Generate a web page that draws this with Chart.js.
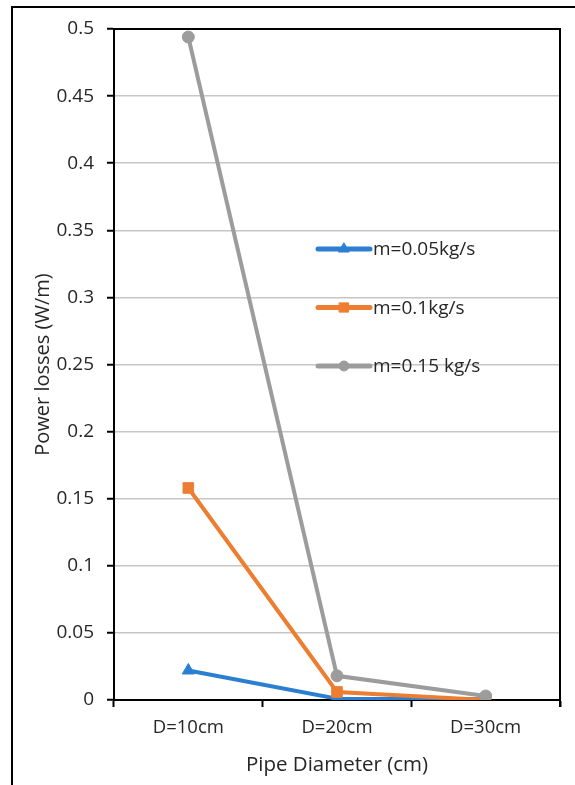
<!DOCTYPE html>
<html>
<head>
<meta charset="utf-8">
<script src="https://cdn.jsdelivr.net/npm/chart.js@4"></script>
<style>
  html, body { margin: 0; padding: 0; background: #fff; overflow: hidden; }
  #wrap { position: relative; width: 575px; height: 785px; }
</style>
</head>
<body>
<div id="wrap"><canvas id="c" width="575" height="785"></canvas></div>
<script>
// Pipe diameters on the x axis
const categories = ['D=10cm', 'D=20cm', 'D=30cm'];
// Mass flow rates, one series each
const seriesNames = ['m=0.05kg/s', 'm=0.1kg/s', 'm=0.15 kg/s'];
// Power losses (W/m)
const lossFlow005 = [0.022, 0.001, 0.0005];
const lossFlow010 = [0.158, 0.006, 0];
const lossFlow015 = [0.494, 0.018, 0.003];
// Value axis range and step
const yMin = 0;
const yMax = 0.5;
const yStep = 0.05;

const FONT = '"Open Sans", Lato, sans-serif';
const TEXT = '#262626';
const colors = ['#2b7fd3', '#ed7d31', '#9c9c9c'];
const markers = ['triangle', 'rect', 'circle'];
const markerRadius = [7, 7.5, 6];

// Top/right frame of the plot area plus the outer figure border
const framePlugin = {
  id: 'frame',
  afterDraw(chart) {
    const { ctx, chartArea: a } = chart;
    ctx.save();
    ctx.strokeStyle = '#000';
    ctx.lineWidth = 2;
    ctx.beginPath();
    ctx.moveTo(a.left, a.top);
    ctx.lineTo(a.right, a.top);
    ctx.lineTo(a.right, a.bottom + 7);
    ctx.stroke();
    // outer border
    ctx.beginPath();
    ctx.moveTo(12, chart.height);
    ctx.lineTo(12, 7);
    ctx.lineTo(chart.width, 7);
    ctx.stroke();
    ctx.restore();
  }
};

// Legend drawn inside the plot area: line sample with the marker on it
const insideLegend = {
  id: 'insideLegend',
  afterDatasetsDraw(chart) {
    const { ctx } = chart;
    const x0 = 318, x1 = 370, y0 = 249, gap = 58.5;
    ctx.save();
    chart.data.datasets.forEach((ds, i) => {
      const y = y0 + i * gap;
      ctx.strokeStyle = ds.borderColor;
      ctx.lineWidth = 5;
      ctx.lineCap = 'round';
      ctx.beginPath();
      ctx.moveTo(x0, y);
      ctx.lineTo(x1, y);
      ctx.stroke();
      ctx.fillStyle = ds.borderColor;
      ctx.lineWidth = 1;
      Chart.helpers.drawPoint(ctx, {
        pointStyle: ds.pointStyle,
        radius: ds.pointRadius - 1,
        borderWidth: 1
      }, (x0 + x1) / 2, y);
      ctx.fillStyle = TEXT;
      ctx.font = '19px ' + FONT;
      ctx.textBaseline = 'middle';
      ctx.textAlign = 'left';
      ctx.fillText(ds.label, x1 + 3, y + 1);
    });
    ctx.restore();
  }
};

const values = [lossFlow005, lossFlow010, lossFlow015];
const datasets = values.map((v, i) => ({
  label: seriesNames[i],
  data: v,
  borderColor: colors[i],
  backgroundColor: colors[i],
  pointBackgroundColor: colors[i],
  pointBorderColor: colors[i],
  borderWidth: 4,
  pointStyle: markers[i],
  pointRadius: markerRadius[i],
  pointBorderWidth: 1,
  tension: 0,
  order: 3 - i
}));

new Chart(document.getElementById('c'), {
  type: 'line',
  data: { labels: categories, datasets },
  plugins: [framePlugin, insideLegend],
  options: {
    responsive: false,
    animation: false,
    layout: { padding: { left: 0, top: 29, right: 15, bottom: 0 } },
    plugins: { legend: { display: false }, tooltip: { enabled: false } },
    scales: {
      x: {
        offset: true,
        grid: {
          offset: true,
          drawOnChartArea: false,
          tickLength: 7,
          tickColor: '#000',
          tickWidth: 2
        },
        border: { color: '#000', width: 2 },
        ticks: { color: TEXT, font: { family: FONT, size: 18.5 }, padding: 10 },
        title: {
          display: true,
          text: 'Pipe Diameter (cm)',
          color: TEXT,
          font: { family: FONT, size: 20.5 },
          padding: { top: 0, bottom: 8 }
        },
        afterFit(scale) { scale.height = 85; }
      },
      y: {
        min: yMin,
        max: yMax,
        grid: {
          color: '#c6c6c6',
          lineWidth: 1.5,
          tickLength: 7,
          tickColor: '#000',
          tickWidth: 2
        },
        border: { color: '#000', width: 2 },
        ticks: {
          stepSize: yStep,
          color: TEXT,
          font: { family: FONT, size: 19 },
          padding: 13,
          callback: (v) => String(+Number(v).toFixed(2))
        },
        title: {
          display: true,
          text: 'Power losses (W/m)',
          color: TEXT,
          font: { family: FONT, size: 20 },
          padding: { top: 31, bottom: 0 }
        },
        afterFit(scale) { scale.width = 114; }
      }
    }
  }
});
</script>
</body>
</html>
